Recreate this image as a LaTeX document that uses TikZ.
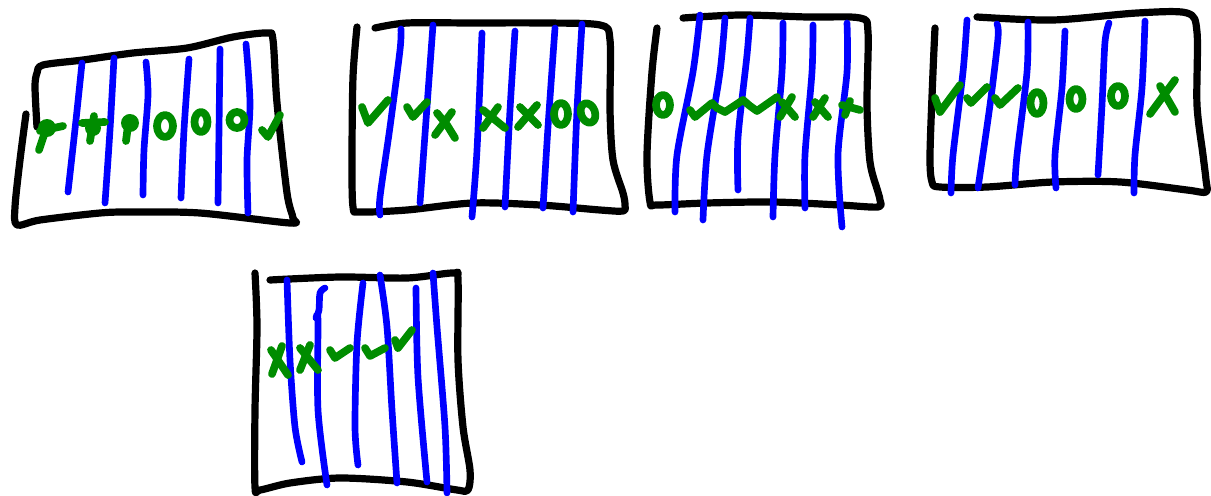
\documentclass[tikz,border=0pt]{standalone}
\definecolor{penblue}{RGB}{0,0,255}
\definecolor{pengreen}{RGB}{0,140,0}
\tikzset{
  blk/.style={line width=5.4pt, black, line cap=round, line join=round},
  blu/.style={line width=5pt, penblue, line cap=round, line join=round},
  grn/.style={line width=5.8pt, pengreen, line cap=round, line join=round},
}
\begin{document}
\begin{tikzpicture}[x=0.75pt,y=-0.75pt]
\useasboundingbox (0,0) rectangle (1211,496);
% ---------------- panel 1 ----------------
\draw[blk] plot[smooth,tension=0.5] coordinates {(37,127) (35,87) (37,73) (43,65) (83,60) (133,53) (187,48) (233,37) (267,33) (273,40) (277,103) (287,193) (293,218) (290,223) (200,213) (133,212) (100,213) (40,220) (17,225) (15,207) (20,160) (26,114)};
\draw[blu] plot[smooth] coordinates {(82,63) (76,120) (68,192)};
\draw[blu] plot[smooth] coordinates {(114,58) (110,130) (105,203)};
\draw[blu] plot[smooth] coordinates {(146,62) (148,95) (144,150) (143,195)};
\draw[blu] plot[smooth] coordinates {(189,59) (184,130) (181,198)};
\draw[blu] plot[smooth] coordinates {(220,49) (219,130) (218,203)};
\draw[blu] plot[smooth] coordinates {(246,44) (250,103) (247,160) (248,213)};
\draw[grn] (39,150) -- (47,126);
\draw[grn] (40,131) -- (63,126);
\fill[pengreen] (47,128) circle (9);
\draw[grn] (82,123) -- (105,122);
\draw[grn] (90,141) -- (94,116);
\fill[pengreen] (93,128) circle (8);
\draw[grn] (126,141) -- (129,118);
\fill[pengreen] (130,123) circle (9);
\draw[grn] (165,126) ellipse (8 and 11);
\draw[grn] (201,122) ellipse (6.5 and 10);
\draw[grn] (237,120) ellipse (7.5 and 8);
\draw[grn] (262,130) -- (268,137) -- (280,115);
% ---------------- panel 2 ----------------
\draw[blk] plot[smooth,tension=0.5] coordinates {(357,27) (353,77) (352,160) (353,207) (360,212) (407,210) (473,203) (540,205) (600,210) (623,211) (625,205) (623,193) (613,160) (610,110) (610,40) (600,25) (540,23) (473,23) (407,23) (375,28)};
\draw[blu] plot[smooth] coordinates {(401,29) (400,50) (390,127) (380,197) (380,215)};
\draw[blu] plot[smooth] coordinates {(433,25) (428,93) (420,203)};
\draw[blu] plot[smooth] coordinates {(482,33) (477,150) (472,217)};
\draw[blu] plot[smooth] coordinates {(515,31) (510,110) (505,207)};
\draw[blu] plot[smooth] coordinates {(555,28) (548,127) (543,208)};
\draw[blu] plot[smooth] coordinates {(582,24) (577,110) (573,212)};
\draw[grn] (362,107) -- (368,123) -- (388,100);
\draw[grn] (407,107) -- (413,117) -- (427,102);
\draw[grn] (437,113) -- (447,125) -- (455,138);
\draw[grn] (452,112) -- (435,135);
\draw[grn] (483,110) -- (505,128);
\draw[grn] (498,107) -- (483,128);
\draw[grn] (520,107) -- (538,125);
\draw[grn] (537,105) -- (518,127);
\draw[grn] (561,114) ellipse (7 and 11);
\draw[grn,rotate around={20:(588,113)}] (588,113) ellipse (7 and 10);
% ---------------- panel 3 ----------------
\draw[blk] plot[smooth,tension=0.5] coordinates {(657,28) (652,72) (647,155) (650,202) (657,205) (707,203) (773,202) (840,205) (878,207) (880,200) (878,192) (870,162) (867,105) (868,32) (860,18) (807,17) (740,15) (683,18)};
\draw[blu] plot[smooth] coordinates {(700,15) (693,72) (677,155) (675,212)};
\draw[blu] plot[smooth] coordinates {(725,18) (720,72) (707,155) (703,220)};
\draw[blu] plot[smooth] coordinates {(750,18) (747,55) (738,138) (738,190)};
\draw[blu] plot[smooth] coordinates {(783,23) (782,72) (775,155) (773,217)};
\draw[blu] plot[smooth] coordinates {(813,25) (812,72) (805,155) (805,208)};
\draw[blu] plot[smooth] coordinates {(847,23) (847,72) (838,155) (842,227)};
\draw[grn] (663,105) ellipse (7 and 10);
\draw[grn] (690,110) -- (695,117) -- (712,103) -- (717,108) -- (725,112) -- (743,100) -- (750,106) -- (757,111) -- (777,97);
\draw[grn] (782,102) -- (795,117);
\draw[grn] (792,97) -- (780,117);
\draw[grn] (815,102) -- (828,117);
\draw[grn] (825,98) -- (813,117);
\draw[grn] (845,115) -- (850,101);
\draw[grn] (842,105) -- (860,110);
% ---------------- panel 4 ----------------
\draw[blk] plot[smooth,tension=0.5] coordinates {(935,28) (933,72) (930,155) (932,182) (940,187) (987,187) (1053,182) (1120,182) (1187,190) (1206,192) (1206,180) (1203,155) (1197,105) (1197,32) (1187,13) (1137,13) (1053,20) (977,17)};
\draw[blu] plot[smooth] coordinates {(967,20) (963,72) (953,155) (951,193)};
\draw[blu] plot[smooth] coordinates {(997,24) (998,38) (990,105) (978,188)};
\draw[blu] plot[smooth] coordinates {(1028,22) (1027,72) (1017,155) (1015,185)};
\draw[blu] plot[smooth] coordinates {(1065,31) (1062,88) (1055,155) (1056,188)};
\draw[blu] plot[smooth] coordinates {(1109,23) (1105,42) (1102,105) (1098,175)};
\draw[blu] plot[smooth] coordinates {(1145,21) (1142,88) (1135,155) (1134,193)};
\draw[grn] (935,98) -- (940,112) -- (960,85);
\draw[grn] (967,98) -- (971,103) -- (987,87);
\draw[grn] (995,98) -- (1000,105) -- (1018,88);
\draw[grn] (1037,103) ellipse (6.5 and 11);
\draw[grn] (1076,99) ellipse (6.5 and 10);
\draw[grn] (1118,96) ellipse (7 and 10);
\draw[grn] (1160,86) -- (1175,112);
\draw[grn] (1175,80) -- (1150,114);
% ---------------- panel 5 ----------------
\draw[blk] plot[smooth,tension=0.5] coordinates {(255,273) (257,327) (255,410) (255,487) (260,490) (290,483) (340,478) (407,482) (457,490) (468,490) (470,470) (463,427) (458,360) (458,280) (453,273) (407,278) (340,277) (270,280)};
\draw[blu] plot[smooth] coordinates {(287,280) (290,360) (295,427) (302,462)};
\draw[blu] plot[smooth] coordinates {(325,288) (320,293) (319,310) (316,318) (318,320) (318,410) (327,485)};
\draw[blu] plot[smooth] coordinates {(363,283) (357,343) (355,427) (358,465)};
\draw[blu] plot[smooth] coordinates {(380,275) (387,327) (392,410) (397,483)};
\draw[blu] plot[smooth] coordinates {(416,288) (418,377) (427,482)};
\draw[blu] plot[smooth] coordinates {(433,273) (437,327) (445,427) (447,493)};
\draw[grn] (271,350) -- (288,375);
\draw[grn] (282,346) -- (272,374);
\draw[grn] (300,348) -- (318,370);
\draw[grn] (310,345) -- (300,370);
\draw[grn] (330,350) -- (335,358) -- (350,348);
\draw[grn] (365,348) -- (370,356) -- (385,348);
\draw[grn] (395,340) -- (398,348) -- (412,330);
\end{tikzpicture}
\end{document}
